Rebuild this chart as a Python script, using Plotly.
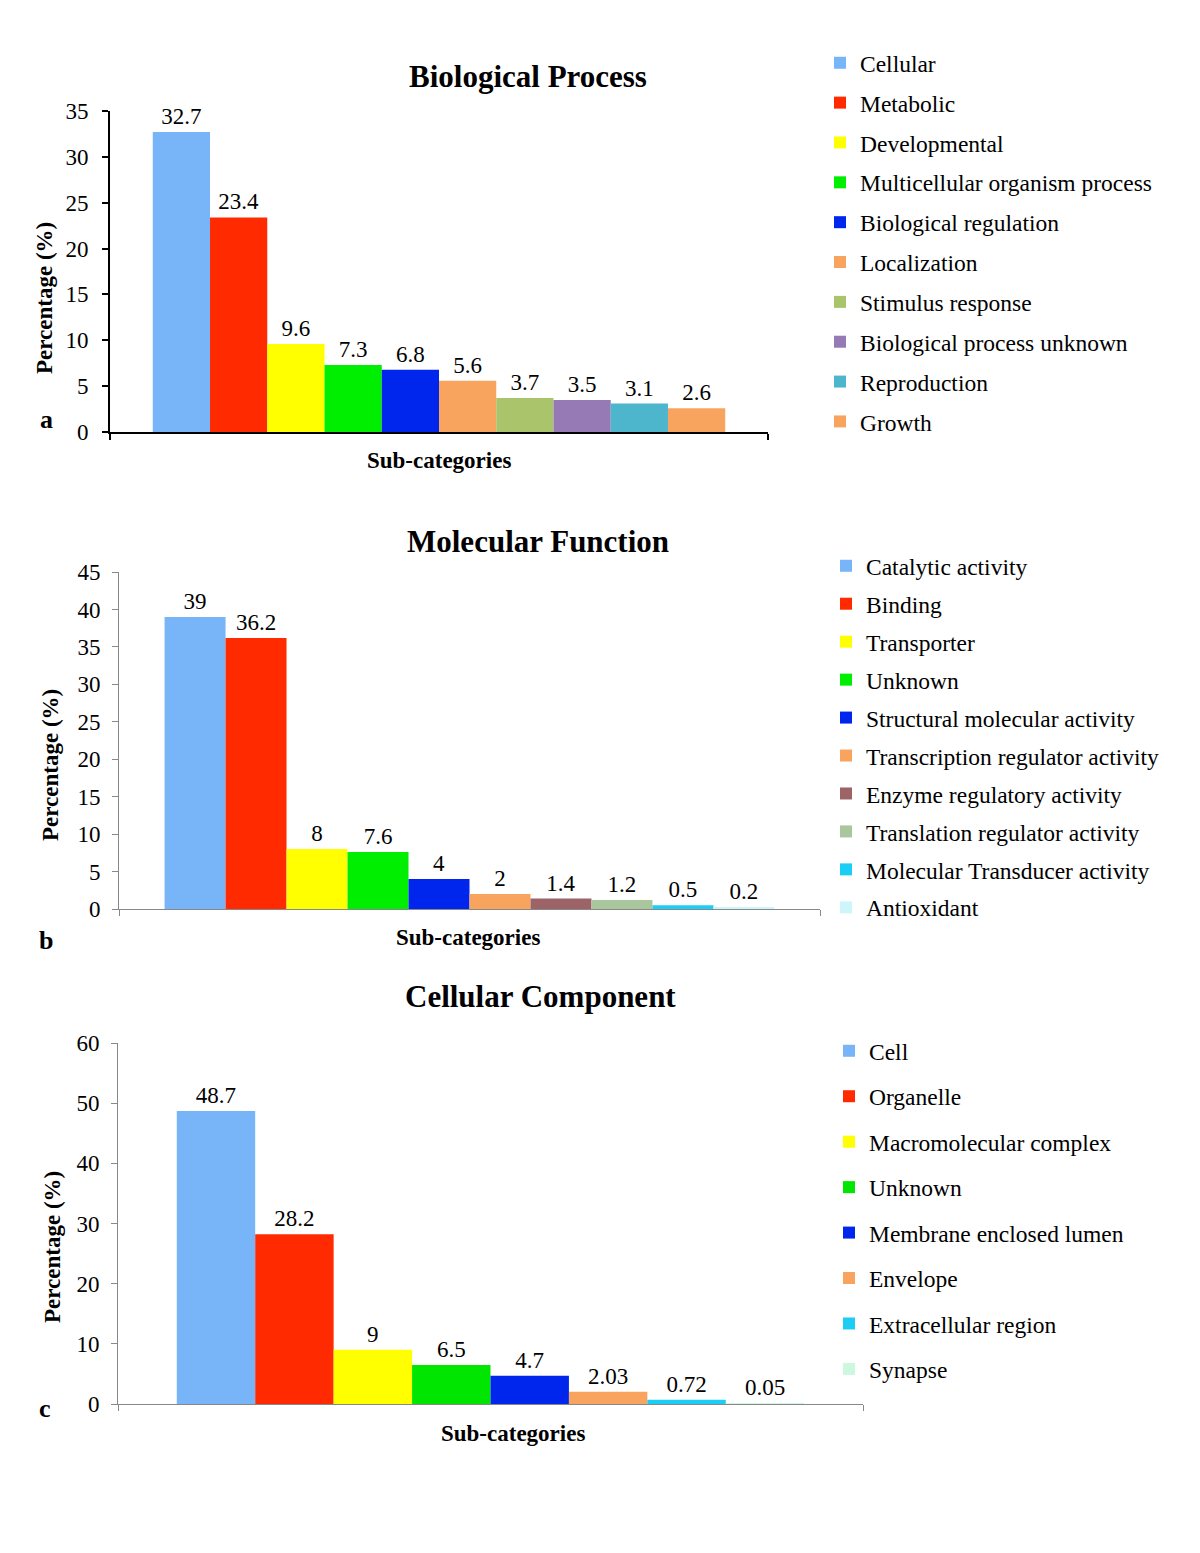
import plotly.graph_objects as go

# Biological Process
bp_labels = ["Cellular", "Metabolic", "Developmental", "Multicellular organism process",
             "Biological regulation", "Localization", "Stimulus response",
             "Biological process unknown", "Reproduction", "Growth"]
bp_values = [32.7, 23.4, 9.6, 7.3, 6.8, 5.6, 3.7, 3.5, 3.1, 2.6]
bp_colors = ["#77b5f8", "#ff2a00", "#ffff00", "#00ee00", "#0026ee",
             "#f9a45e", "#a9c46b", "#957ab5", "#4eb6cc", "#f9a45e"]

# Molecular Function
mf_labels = ["Catalytic activity", "Binding", "Transporter", "Unknown",
             "Structural molecular activity", "Transcription regulator activity",
             "Enzyme regulatory activity", "Translation regulator activity",
             "Molecular Transducer activity", "Antioxidant"]
mf_values = [39, 36.2, 8, 7.6, 4, 2, 1.4, 1.2, 0.5, 0.2]
mf_colors = ["#77b5f8", "#ff2a00", "#ffff00", "#00ee00", "#0026ee",
             "#f9a45e", "#9c6466", "#aac69d", "#1ccef5", "#ccf6fa"]

# Cellular Component
cc_labels = ["Cell", "Organelle", "Macromolecular complex", "Unknown",
             "Membrane enclosed lumen", "Envelope", "Extracellular region", "Synapse"]
cc_values = [48.7, 28.2, 9, 6.5, 4.7, 2.03, 0.72, 0.05]
cc_colors = ["#77b5f8", "#ff2a00", "#ffff00", "#00e600", "#0026ee",
             "#f9a45e", "#1ccef5", "#ccf8e0"]

# page body has an 8px margin, so the figure is a little smaller than the window
OFF = 8
W, H = 1200 - OFF, 1553 - OFF
FONT = "Liberation Serif"


def px(x):
    return (x - OFF) / W


def py(y):
    return 1 - (y - OFF) / H


fig = go.Figure()

panels = [
    # labels, values, colors, axis suffix, legend, xpix, ypix(0, top), ymax, dtick, half-range, axis color, line width, standoff
    (bp_labels, bp_values, bp_colors, "", "legend", (110, 768), (432, 111), 35, 5, 0.5, "black", 2, 9),
    (mf_labels, mf_values, mf_colors, "2", "legend2", (119, 820), (909, 572), 45, 5, 0.5, "#888888", 1, 7),
    (cc_labels, cc_values, cc_colors, "3", "legend3", (118, 863), (1404, 1043), 60, 10, 0.5165, "#888888", 1, 7),
]

for labels, values, colors, sfx, leg, xp, yp, ymax, dtick, r, lc, lw, so in panels:
    for lab, val, col in zip(labels, values, colors):
        fig.add_trace(go.Bar(
            x=[0], y=[val], name=lab, marker=dict(color=col, line=dict(width=0)),
            text=[f"{val:g}"], textposition="outside", cliponaxis=False,
            textfont=dict(family=FONT, size=23, color="black"),
            xaxis="x" + sfx, yaxis="y" + sfx, legend=leg, legendgroup=leg + lab,
            hoverinfo="skip",
        ))
    fig.layout["xaxis" + sfx] = dict(
        domain=[px(xp[0]), px(xp[1])], range=[-r, r], anchor="y" + sfx,
        tickvals=[-r, r], showticklabels=False, ticks="outside", ticklen=6,
        tickcolor=lc, tickwidth=lw, showline=True, linecolor=lc, linewidth=lw,
        showgrid=False, zeroline=False, fixedrange=True, automargin=False,
    )
    fig.layout["yaxis" + sfx] = dict(
        domain=[py(yp[0]), py(yp[1])], range=[0, ymax], anchor="x" + sfx,
        dtick=dtick, ticks="outside", ticklen=6, tickcolor=lc, tickwidth=lw,
        showline=True, linecolor=lc, linewidth=lw, showgrid=False, zeroline=False,
        tickfont=dict(family=FONT, size=23, color="black"), fixedrange=True,
        automargin=False, ticklabelstandoff=so,
    )

leg_common = dict(font=dict(family=FONT, size=23.5, color="black"), xanchor="left",
                  yanchor="top", traceorder="grouped", bgcolor="rgba(0,0,0,0)",
                  itemclick=False, itemdoubleclick=False)
fig.update_layout(
    legend=dict(x=px(820), y=py(41), tracegroupgap=6.3, **leg_common),
    legend2=dict(x=px(826), y=py(544), tracegroupgap=4.4, **leg_common),
    legend3=dict(x=px(829), y=py(1029), tracegroupgap=11.9, **leg_common),
)

ann = []
titles = [("Biological Process", 528, 76), ("Molecular Function", 538, 541),
          ("Cellular Component", 540, 997)]
for t, x, y in titles:
    ann.append(dict(text=f"<b>{t}</b>", x=px(x), y=py(y), font=dict(size=31)))
for x, y in [(439, 460), (468, 938), (513, 1433)]:
    ann.append(dict(text="<b>Sub-categories</b>", x=px(x), y=py(y), font=dict(size=23)))
for x, y in [(44, 298), (50, 765), (52, 1247)]:
    ann.append(dict(text="<b>Percentage (%)</b>", x=px(x), y=py(y), textangle=-90,
                    font=dict(size=23)))
for t, x, y in [("a", 46, 420), ("b", 46, 940), ("c", 45, 1408)]:
    ann.append(dict(text=f"<b>{t}</b>", x=px(x), y=py(y), font=dict(size=26)))
for a in ann:
    a.update(xref="paper", yref="paper", showarrow=False, xanchor="center", yanchor="middle")
    a["font"].update(family=FONT, color="black")

fig.update_layout(
    template="none",
    width=W, height=H, margin=dict(l=0, r=0, t=0, b=0, autoexpand=False),
    paper_bgcolor="white", plot_bgcolor="white", barmode="group",
    bargap=0.13, bargroupgap=0, annotations=ann, showlegend=True,
    font=dict(family=FONT, color="black"),
)

fig.write_html("out.html")
